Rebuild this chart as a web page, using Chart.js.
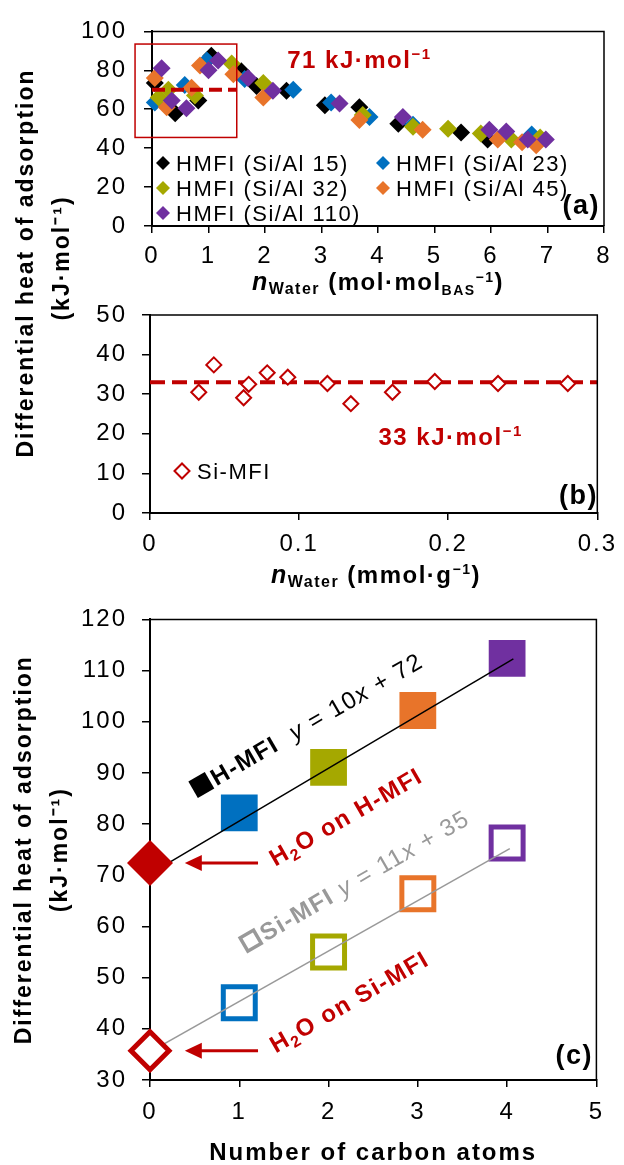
<!DOCTYPE html>
<html>
<head>
<meta charset="utf-8">
<script src="https://cdn.jsdelivr.net/npm/chart.js@4.4.1/dist/chart.umd.min.js"></script>
<style>
  html, body { margin: 0; padding: 0; background: #fff; }
  #wrap { position: relative; width: 624px; height: 1165px; overflow: hidden; }
  canvas { position: absolute; left: 0; }
  #chartB { top: 0; z-index: 1; }
  #chartA { top: 0; z-index: 2; }
  #chartC { top: 590px; z-index: 1; }
</style>
</head>
<body>
<div id="wrap">
  <canvas id="chartB" width="624" height="600"></canvas>
  <canvas id="chartA" width="624" height="300"></canvas>
  <canvas id="chartC" width="624" height="575"></canvas>
</div>
<script>
(function () {
    "use strict";

    // (a) H-MFI: water loading (mol/mol BAS) vs differential heat (kJ/mol)
    const seriesNames = ["HMFI (Si/Al 15)", "HMFI (Si/Al 23)", "HMFI (Si/Al 32)", "HMFI (Si/Al 45)", "HMFI (Si/Al 110)"];
    const si15X = [0.05, 0.41, 0.82, 1.05, 1.58, 1.85, 2.38, 3.06, 3.67, 4.36, 5.47, 5.94, 6.75];
    const si15Y = [73.5, 58, 64.5, 87.5, 79.5, 72, 69.5, 62, 61, 52.5, 48, 44.5, 44];
    const si23X = [0.05, 0.58, 0.97, 1.64, 2.5, 3.17, 3.85, 4.62, 6.72];
    const si23Y = [63.5, 72.5, 85, 75.5, 70, 63.5, 56, 52, 47];
    const si32X = [0.12, 0.29, 0.76, 1.41, 1.97, 3.73, 4.62, 5.24, 5.82, 6.36, 6.87];
    const si32Y = [66, 70, 67, 83.5, 73.5, 57, 51, 50, 47.5, 44.5, 45.5];
    const si45X = [0.05, 0.26, 0.7, 0.85, 1.44, 1.97, 3.67, 4.79, 6.12, 6.55, 6.8];
    const si45Y = [76, 61, 71, 82.5, 78, 66, 54.5, 49.5, 44.5, 43, 41.5];
    const si110X = [0.17, 0.35, 0.61, 1.0, 1.17, 1.7, 2.14, 3.32, 4.44, 5.97, 6.27, 6.65, 6.97];
    const si110Y = [81, 64.5, 60.5, 80, 85, 76, 69.5, 63, 56, 49.5, 48.5, 44.5, 44.5];
    const meanAX = [0, 1.5];
    const meanAY = [70, 70];

    // (b) Si-MFI: water loading (mmol/g)
    const siMfiX = [0.0327, 0.0428, 0.0628, 0.0662, 0.0786, 0.0924, 0.119, 0.1347, 0.1626, 0.191, 0.2334, 0.2802];
    const siMfiY = [30.5, 37.4, 29.1, 32.5, 35.4, 34.3, 32.7, 27.6, 30.5, 33.2, 32.7, 32.7];
    const meanBX = [0, 0.3];
    const meanBY = [33, 33];

    // (c) heat vs number of carbon atoms (alcohols), water at 0
    const carbons = [1, 2, 3, 4];
    const hmfiHeat = [82.2, 91.1, 102.2, 112.4];
    const simfiHeat = [45.1, 55.0, 66.4, 76.3];
    const waterHeat = [72.4, 35.7];
    const hFitX = [0, 4.07];
    const hFitY = [70.3, 112.3];
    const sFitX = [0, 4.03];
    const sFitY = [35.5, 75.2];

    const xTicksA = [0, 1, 2, 3, 4, 5, 6, 7, 8];
    const yTicksA = [0, 20, 40, 60, 80, 100];
    const xTicksB = [0, 0.1, 0.2, 0.3];
    const yTicksB = [0, 10, 20, 30, 40, 50];
    const xTicksC = [0, 1, 2, 3, 4, 5];
    const yTicksC = [30, 40, 50, 60, 70, 80, 90, 100, 110, 120];

    const RED = "#C00000";
    const GRAY = "#999999";
    const seriesColors = ["#000000", "#0070C0", "#A5A800", "#E8742A", "#7030A0"];
    const carbonColors = ["#0070C0", "#A5A800", "#E8742A", "#7030A0"];
    const FONT = "'Liberation Sans', Arial, Helvetica, sans-serif";
    const bold = n => "bold " + n + "px " + FONT;
    const reg = n => n + "px " + FONT;
    const ital = n => "italic " + n + "px " + FONT;
    const boldItal = n => "italic bold " + n + "px " + FONT;

    Chart.defaults.font.family = FONT;
    Chart.defaults.color = "#000";

    const pts = (xs, ys) => xs.map((x, i) => ({ x: x, y: ys[i] }));

    // text in the picture runs a little wide, so spread the letters
    const spacing = {
        id: "spacing",
        beforeDraw(chart) { chart.ctx.letterSpacing = "2px"; }
    };

    const frame = {
        id: "frame",
        afterDraw(chart) {
            const { ctx, chartArea: a } = chart;
            ctx.save();
            ctx.strokeStyle = "#000";
            ctx.lineWidth = 1.5;
            ctx.beginPath();
            ctx.moveTo(a.left, a.top);
            ctx.lineTo(a.right, a.top);
            ctx.lineTo(a.right, a.bottom);
            ctx.stroke();
            ctx.restore();
        }
    };

    function richText(ctx, parts, x, y, opt) {
        opt = opt || {};
        ctx.save();
        ctx.translate(x, y);
        ctx.rotate(opt.angle || 0);
        ctx.textAlign = "left";
        ctx.textBaseline = "alphabetic";
        let total = 0;
        parts.forEach(p => {
            if (p.box) {
                p.w = p.box + (p.gap || 0);
            } else {
                ctx.font = p.font;
                ctx.letterSpacing = (p.ls === undefined ? 1.5 : p.ls) + "px";
                p.w = ctx.measureText(p.t).width;
            }
            total += p.w;
        });
        let cx = opt.align === "left" ? 0 : opt.align === "right" ? -total : -total / 2;
        const base = opt.base || 0;
        parts.forEach(p => {
            if (p.box) {
                const s = p.box, top = base - s + 1;
                if (p.open) {
                    ctx.strokeStyle = p.color;
                    ctx.lineWidth = p.lw;
                    ctx.strokeRect(cx + p.lw / 2, top + p.lw / 2, s - p.lw, s - p.lw);
                } else {
                    ctx.fillStyle = p.color;
                    ctx.fillRect(cx, top, s, s);
                }
            } else {
                ctx.font = p.font;
                ctx.letterSpacing = (p.ls === undefined ? 1.5 : p.ls) + "px";
                ctx.fillStyle = p.color || "#000";
                ctx.fillText(p.t, cx, base + (p.dy || 0));
            }
            cx += p.w;
        });
        ctx.restore();
    }

    function diamond(ctx, x, y, r, fill, stroke, lw) {
        ctx.beginPath();
        ctx.moveTo(x - r, y);
        ctx.lineTo(x, y - r);
        ctx.lineTo(x + r, y);
        ctx.lineTo(x, y + r);
        ctx.closePath();
        if (fill) { ctx.fillStyle = fill; ctx.fill(); }
        if (stroke) { ctx.strokeStyle = stroke; ctx.lineWidth = lw; ctx.stroke(); }
    }

    function axis(min, max, ticks, size, tickLen, pad, extra) {
        return Object.assign({
            type: "linear",
            min: min,
            max: max,
            afterBuildTicks: s => { s.ticks = ticks.map(v => ({ value: v })); },
            afterFit: s => { if (s.isHorizontal()) s.height = size; else s.width = size; },
            grid: { drawOnChartArea: false, drawTicks: true, tickLength: tickLen, color: "#000", lineWidth: 1.5 },
            border: { display: true, color: "#000", width: 2 },
            ticks: { font: { size: 24 }, color: "#000", padding: pad, autoSkip: false, maxRotation: 0, callback: v => String(v) }
        }, extra || {});
    }

    const baseOptions = (padding, scales) => ({
        responsive: false,
        animation: false,
        events: [],
        layout: { padding: padding },
        plugins: { legend: { display: false }, tooltip: { enabled: false } },
        scales: scales
    });

    // ---------- (a) ----------
    const seriesA = [
        [si15X, si15Y], [si23X, si23Y], [si32X, si32Y], [si45X, si45Y], [si110X, si110Y]
    ];

    const notesA = {
        id: "notesA",
        afterDraw(chart) {
            const { ctx, scales: { x, y } } = chart;
            ctx.save();
            ctx.strokeStyle = RED;
            ctx.lineWidth = 1.5;
            const bx = x.getPixelForValue(-0.3), by = y.getPixelForValue(93.5);
            ctx.strokeRect(bx, by, x.getPixelForValue(1.5) - bx, y.getPixelForValue(45.5) - by);
            ctx.restore();

            richText(ctx, [
                { t: "71 kJ·mol", font: bold(24), color: RED },
                { t: "−1", font: bold(15), color: RED, dy: -9 }
            ], x.getPixelForValue(3.67), y.getPixelForValue(81.4));

            seriesNames.forEach((name, i) => {
                const lx = [163, 383][i % 2], ly = [163, 188, 213][Math.floor(i / 2)];
                ctx.save();
                diamond(ctx, lx, ly, 7, seriesColors[i]);
                ctx.restore();
                richText(ctx, [{ t: name, font: reg(22) }], lx + 13, ly + 8, { align: "left" });
            });

            richText(ctx, [{ t: "(a)", font: bold(27) }], 600, 214, { align: "right" });

            richText(ctx, [
                { t: "n", font: boldItal(25) },
                { t: "Water", font: bold(16), dy: 4 },
                { t: " (mol·mol", font: bold(24) },
                { t: "BAS", font: bold(14), dy: 5 },
                { t: "−1", font: bold(14), dy: -8 },
                { t: ")", font: bold(24) }
            ], 378, 290);
        }
    };

    new Chart(document.getElementById("chartA"), {
        type: "scatter",
        data: {
            datasets: [
                {
                    data: pts(meanAX, meanAY),
                    showLine: true,
                    borderColor: RED,
                    borderWidth: 4,
                    borderDash: [13, 6],
                    pointRadius: 0,
                    order: 0
                }
            ].concat(seriesA.map((s, i) => ({
                label: seriesNames[i],
                data: pts(s[0], s[1]),
                pointStyle: "rectRot",
                pointRadius: 9,
                pointBackgroundColor: seriesColors[i],
                pointBorderWidth: 0,
                clip: false,
                order: 5 - i
            })))
        },
        options: baseOptions({ top: 26, right: 20, left: 0, bottom: 0 }, {
            x: axis(0, 8, xTicksA, 74, 7, 9),
            y: axis(0, 100, yTicksA, 152, 8, 17)
        }),
        plugins: [spacing, frame, notesA]
    });

    // ---------- (b) ----------
    const notesB = {
        id: "notesB",
        afterDraw(chart) {
            const { ctx, scales: { x, y } } = chart;

            richText(ctx, [
                { t: "33 kJ·mol", font: bold(24), color: RED },
                { t: "−1", font: bold(15), color: RED, dy: -9 }
            ], x.getPixelForValue(0.2016), y.getPixelForValue(17.2));

            ctx.save();
            diamond(ctx, 182, 471, 7.5, "#fff", RED, 2);
            ctx.restore();
            richText(ctx, [{ t: "Si-MFI", font: reg(22) }], 197, 479, { align: "left" });

            richText(ctx, [{ t: "(b)", font: bold(27) }], 598, 504, { align: "right" });

            richText(ctx, [
                { t: "n", font: boldItal(25) },
                { t: "Water", font: bold(16), dy: 4 },
                { t: " (mmol·g", font: bold(24) },
                { t: "−1", font: bold(14), dy: -9 },
                { t: ")", font: bold(24) }
            ], 376, 583);

            // y title shared by (a) and (b)
            richText(ctx, [{ t: "Differential heat of adsorption", font: bold(23), ls: 2 }], 25, 263,
                { angle: -Math.PI / 2, base: 8 });
            richText(ctx, [{ t: "(kJ·mol⁻¹)", font: bold(23), ls: 2 }], 61, 258,
                { angle: -Math.PI / 2, base: 8 });
        }
    };

    new Chart(document.getElementById("chartB"), {
        type: "scatter",
        data: {
            datasets: [
                {
                    data: pts(meanBX, meanBY),
                    showLine: true,
                    borderColor: RED,
                    borderWidth: 4,
                    borderDash: [15, 7],
                    pointRadius: 0,
                    order: 1
                },
                {
                    label: "Si-MFI",
                    data: pts(siMfiX, siMfiY),
                    pointStyle: "rectRot",
                    pointRadius: 7.5,
                    pointBackgroundColor: "#fff",
                    pointBorderColor: RED,
                    pointBorderWidth: 2,
                    clip: false,
                    order: 0
                }
            ]
        },
        options: baseOptions({ top: 315, right: 25, left: 0, bottom: 0 }, {
            x: axis(0, 0.3, xTicksB, 87, 7, 10),
            y: axis(0, 50, yTicksB, 150, 8, 15)
        }),
        plugins: [spacing, frame, notesB]
    });

    // ---------- (c) ----------
    function arrow(ctx, x1, y, x2) {
        ctx.save();
        ctx.strokeStyle = RED;
        ctx.fillStyle = RED;
        ctx.lineWidth = 3;
        ctx.beginPath();
        ctx.moveTo(x1, y);
        ctx.lineTo(x2 + 14, y);
        ctx.stroke();
        ctx.beginPath();
        ctx.moveTo(x2, y);
        ctx.lineTo(x2 + 17, y - 8);
        ctx.lineTo(x2 + 17, y + 8);
        ctx.closePath();
        ctx.fill();
        ctx.restore();
    }

    const notesC = {
        id: "notesC",
        afterDraw(chart) {
            const { ctx, scales: { x, y } } = chart;
            const ang = -Math.PI / 6;

            waterHeat.forEach(v => arrow(ctx, x.getPixelForValue(1.21), y.getPixelForValue(v), x.getPixelForValue(0.39)));

            richText(ctx, [
                { box: 19, color: "#000", gap: 3 },
                { t: "H-MFI", font: bold(24) },
                { t: "  ", font: reg(24) },
                { t: "y", font: ital(24) },
                { t: " = 10", font: reg(24) },
                { t: "x", font: ital(24) },
                { t: " + 72", font: reg(24) }
            ], x.getPixelForValue(1.759), y.getPixelForValue(99.45), { angle: ang, base: 8 });

            richText(ctx, [
                { t: "H", font: bold(24), color: RED },
                { t: "2", font: bold(16), color: RED, dy: 5 },
                { t: "O on H-MFI", font: bold(24), color: RED }
            ], x.getPixelForValue(2.194), y.getPixelForValue(81.45), { angle: ang, base: 8 });

            richText(ctx, [
                { box: 19, open: true, lw: 3.5, color: GRAY, gap: 3 },
                { t: "Si-MFI", font: bold(24), color: GRAY },
                { t: " ", font: reg(24), color: GRAY },
                { t: "y", font: ital(24), color: GRAY },
                { t: " = 11", font: reg(24), color: GRAY },
                { t: "x", font: ital(24), color: GRAY },
                { t: " + 35", font: reg(24), color: GRAY }
            ], x.getPixelForValue(2.297), y.getPixelForValue(68.9), { angle: ang, base: 8 });

            richText(ctx, [
                { t: "H", font: bold(24), color: RED },
                { t: "2", font: bold(16), color: RED, dy: 5 },
                { t: "O on Si-MFI", font: bold(24), color: RED }
            ], x.getPixelForValue(2.231), y.getPixelForValue(45.3), { angle: ang, base: 8 });

            richText(ctx, [{ t: "(c)", font: bold(27) }], 593, 474, { align: "right" });
        }
    };

    new Chart(document.getElementById("chartC"), {
        type: "scatter",
        data: {
            datasets: [
                {
                    label: "H-MFI",
                    data: pts(carbons, hmfiHeat),
                    pointStyle: "rect",
                    pointRadius: 26,
                    pointBackgroundColor: carbonColors,
                    pointBorderWidth: 0,
                    clip: false,
                    order: 2
                },
                {
                    label: "Si-MFI",
                    data: pts(carbons, simfiHeat),
                    pointStyle: "rect",
                    pointRadius: 22.6,
                    pointBackgroundColor: "#fff",
                    pointBorderColor: carbonColors,
                    pointBorderWidth: 5,
                    clip: false,
                    order: 2
                },
                {
                    data: pts(hFitX, hFitY),
                    showLine: true,
                    borderColor: "#000",
                    borderWidth: 1.5,
                    pointRadius: 0,
                    order: 1
                },
                {
                    data: pts(sFitX, sFitY),
                    showLine: true,
                    borderColor: GRAY,
                    borderWidth: 1.5,
                    pointRadius: 0,
                    order: 1
                },
                {
                    label: "H2O on H-MFI",
                    data: [{ x: 0, y: waterHeat[0] }],
                    pointStyle: "rectRot",
                    pointRadius: 23,
                    pointBackgroundColor: RED,
                    pointBorderWidth: 0,
                    clip: false,
                    order: 0
                },
                {
                    label: "H2O on Si-MFI",
                    data: [{ x: 0, y: waterHeat[1] }],
                    pointStyle: "rectRot",
                    pointRadius: 19,
                    pointBackgroundColor: "#fff",
                    pointBorderColor: RED,
                    pointBorderWidth: 5,
                    clip: false,
                    order: 0
                }
            ]
        },
        options: baseOptions({ top: 16, right: 24, left: 0, bottom: 0 }, {
            x: axis(0, 5, xTicksC, 85, 7, 11, {
                title: { display: true, text: "Number of carbon atoms", font: { size: 24, weight: "bold", lineHeight: 1 }, padding: 0, color: "#000" }
            }),
            y: axis(30, 120, yTicksC, 150, 8, 15, {
                title: {
                    display: true,
                    text: ["Differential heat of adsorption", "(kJ·mol⁻¹)"],
                    font: { size: 23, weight: "bold", lineHeight: 1.565 },
                    padding: { top: 7, bottom: 0 },
                    color: "#000"
                }
            })
        }),
        plugins: [spacing, frame, notesC]
    });
})();
</script>
</body>
</html>
